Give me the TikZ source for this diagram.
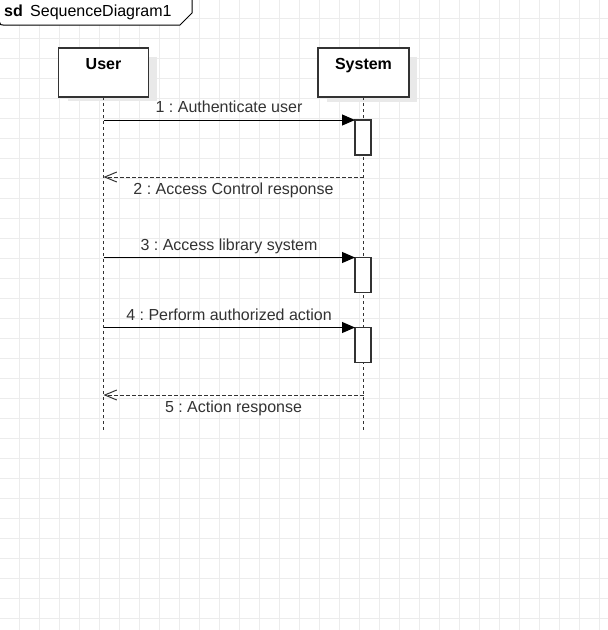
\documentclass[tikz,border=0pt]{standalone}
\usepackage{fontspec}
\setmainfont{Liberation Sans}
\usetikzlibrary{arrows.meta,calc}
\definecolor{gridc}{RGB}{236,236,236}
\definecolor{ink}{RGB}{51,51,51}
\definecolor{shadowc}{RGB}{233,233,233}
\frenchspacing
\begin{document}
\begin{tikzpicture}[x=1pt,y=-1pt,
  every node/.style={font=\fontsize{16}{19}\selectfont},
  lifebox/.style={draw=ink, line width=1.3pt, fill=white, inner sep=0pt, outer sep=0pt, minimum height=49pt},
  actbar/.style={draw=ink, line width=1.3pt, fill=white, inner sep=0pt, outer sep=0pt, minimum width=16pt, minimum height=35pt},
  boxname/.style={anchor=base, inner sep=0pt, font=\fontsize{16}{19}\selectfont\bfseries},
  msglbl/.style={anchor=base, inner sep=0pt, text=ink},
  life/.style={draw=ink, line width=1pt, dash pattern=on 3pt off 3pt},
  msg/.style={draw=black, line width=1pt, -{Triangle[length=13pt,width=11pt]}},
  ret/.style={draw=ink, line width=1pt, dash pattern=on 4pt off 2pt, -{Straight Barb[length=12pt,width=10pt]}}
]
\useasboundingbox (0,0) rectangle (608,630);
\fill[white] (0,0) rectangle (608,630);
% grid
\foreach \gx in {19,39,...,599} { \draw[gridc, line width=1pt] (\gx,0) -- (\gx,630); }
\foreach \gy in {18,38,...,618} { \draw[gridc, line width=1pt] (0,\gy) -- (608,\gy); }
% frame label
\draw[black, line width=1pt, fill=white] (192,-1) -- (192,13) -- (180,25) -- (3,25) .. controls (0.5,25) .. (-0.5,22) -- (-0.5,-1) -- cycle;
\node[anchor=base west, inner sep=0pt, font=\fontsize{16}{19}\selectfont\bfseries] (sdkw) at (4,16.5) {sd};
\node[anchor=base west, inner sep=0pt] (sdname) at (30,16.5) {SequenceDiagram1};
% coordinates
\coordinate (userpos) at (103.5,72.5);
\coordinate (syspos) at (363.5,72.5);
% shadows
\fill[shadowc] ($(userpos)+(-36,-15.5)$) rectangle ($(userpos)+(53,28)$);
\fill[shadowc] ($(syspos)+(-36.5,-15.5)$) rectangle ($(syspos)+(53.5,29)$);
% lifeline boxes
\node[lifebox, minimum width=90pt] (user) at (userpos) {};
\node[lifebox, minimum width=91pt] (sys) at (syspos) {};
\node[boxname] (userlbl) at (103.5,69.5) {User};
\node[boxname] (syslbl) at (363.5,69.5) {System};
% lifelines
\coordinate (uend) at (103.5,432);
\coordinate (send) at (363.5,432);
\draw[life] (user.south) -- (uend);
\draw[life] (sys.south) -- (send);
% activation bars
\node[actbar] (b1) at (363,137.5) {};
\node[actbar] (b2) at (363,275) {};
\node[actbar] (b3) at (363,345) {};
% messages
\draw[msg] (user.south |- b1.north) -- (b1.north west);
\node[msglbl] (l1) at (229,112) {1 : Authenticate user};
\coordinate (r1) at (0,177);
\draw[ret] (sys.south |- r1) -- (user.south |- r1);
\node[msglbl] (l2) at (233.5,194) {2 : Access Control response};
\draw[msg] (user.south |- b2.north) -- (b2.north west);
\node[msglbl] (l3) at (229,250) {3 : Access library system};
\draw[msg] (user.south |- b3.north) -- (b3.north west);
\node[msglbl] (l4) at (229,320) {4 : Perform authorized action};
\coordinate (r2) at (0,395);
\draw[ret] (sys.south |- r2) -- (user.south |- r2);
\node[msglbl] (l5) at (233.5,412.5) {5 : Action response};
\end{tikzpicture}
\end{document}
